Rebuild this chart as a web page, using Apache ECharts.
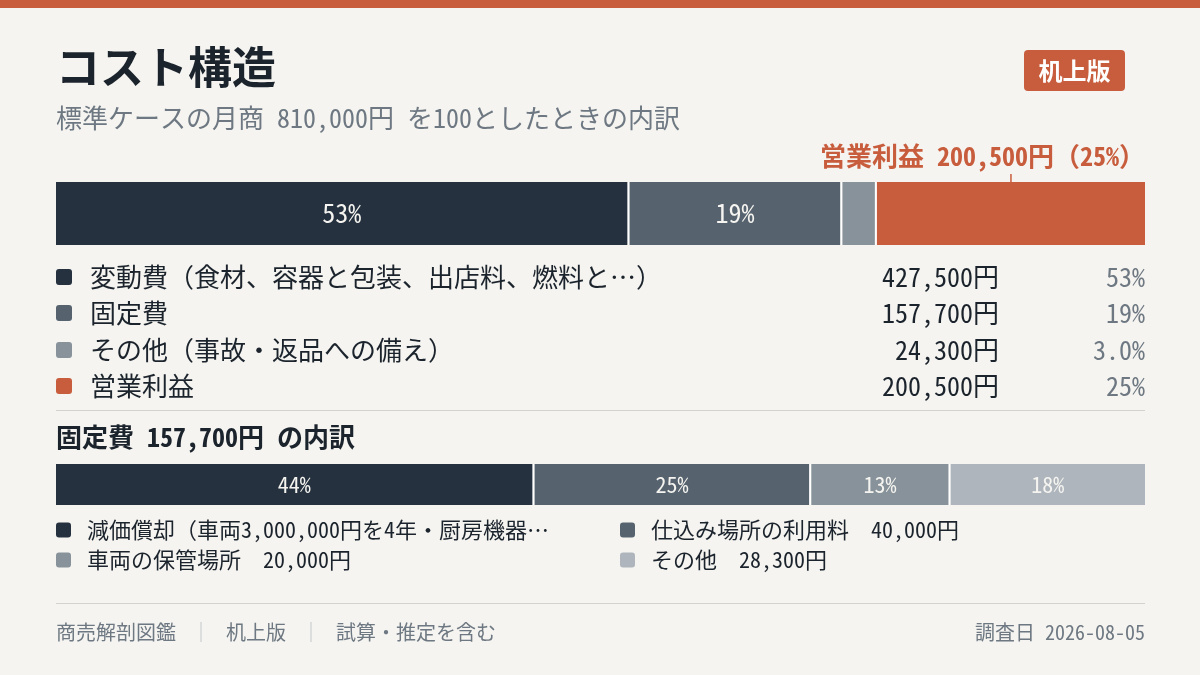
<!DOCTYPE html>
<html><head><meta charset="utf-8">
<script src="https://cdn.jsdelivr.net/npm/echarts@6/dist/echarts.min.js"></script>
<style>html,body{margin:0;padding:0;background:#F5F4F0}#c{width:1200px;height:675px}</style>
</head><body><div id="c"></div>
<script>
const costCategories = ['変動費（食材、容器と包装、出店料、燃料と…）', '固定費', 'その他（事故・返品への備え）', '営業利益'];
const costValues = [427500, 157700, 24300, 200500];
const costColors = ['#25313E', '#56636F', '#87929A', '#C85D3D'];
const fixedCategories = ['減価償却（車両3,000,000円を4年・厨房機器…', '仕込み場所の利用料', '車両の保管場所', 'その他'];
const fixedValues = [69400, 40000, 20000, 28300];
const fixedColors = ['#25313E', '#56636F', '#87929A', '#AEB5BC'];
const monthlySales = 810000;

const FONT = '"Noto Sans Mono CJK JP", "Noto Sans CJK JP", sans-serif';
const DARK = '#1B232C', GRAY = '#6E7882', ORANGE = '#C85D3D', BG = '#F5F4F0';
const fmt = v => v.toLocaleString('en-US');
const pctOf = (v, t) => { const p = v / t * 100; return p < 10 ? p.toFixed(1) + '%' : Math.round(p) + '%'; };
const costTotal = costValues.reduce((a, b) => a + b, 0);
const fixedTotal = fixedValues.reduce((a, b) => a + b, 0);

const BAR_W = 1089, GAP_PX = 2;
function stackSeries(values, colors, total, axis, stack, labelSize, showLabel) {
  const n = values.length;
  const gapVal = total * GAP_PX / (BAR_W - GAP_PX * (n - 1));
  const out = [];
  values.forEach((v, i) => {
    if (i > 0) out.push({ type: 'bar', stack, xAxisIndex: axis, yAxisIndex: axis, data: [gapVal], barWidth: '100%',
      itemStyle: { color: '#FFFFFF' }, silent: true, label: { show: false } });
    out.push({ type: 'bar', stack, xAxisIndex: axis, yAxisIndex: axis, data: [v], barWidth: '100%',
      itemStyle: { color: colors[i] }, silent: true,
      label: { show: showLabel(v, i), position: 'inside', formatter: () => pctOf(v, total),
        color: '#F5F4F0', fontSize: labelSize, fontFamily: FONT } });
  });
  return { series: out, max: total + gapVal * (n - 1), gapVal };
}
const s1 = stackSeries(costValues, costColors, costTotal, 0, 'cost', 26, (v, i) => i < 3 && v / costTotal >= 0.1);
const s2 = stackSeries(fixedValues, fixedColors, fixedTotal, 1, 'fixed', 22, () => true);

const chart = echarts.init(document.getElementById('c'));

const graphics = [];
graphics.push({ type: 'rect', shape: { x: 0, y: 0, width: 1200, height: 8 }, style: { fill: ORANGE }, silent: true });
graphics.push({ type: 'text', x: 56, y: 67, style: { text: 'コスト構造', fontSize: 44, fontWeight: 'bold', fill: DARK, fontFamily: FONT, verticalAlign: 'middle' } });
graphics.push({ type: 'text', x: 56, y: 118, style: { text: '標準ケースの月商 ' + fmt(monthlySales) + '円 を100としたときの内訳', fontSize: 26, fill: GRAY, fontFamily: FONT, verticalAlign: 'middle' } });
graphics.push({ type: 'rect', shape: { x: 1024, y: 50, width: 101, height: 41, r: 4 }, style: { fill: ORANGE } });
graphics.push({ type: 'text', x: 1074.5, y: 71, style: { text: '机上版', fontSize: 24, fontWeight: 'bold', fill: '#FFFFFF', fontFamily: FONT, align: 'center', verticalAlign: 'middle' } });

const rowY = [277, 313, 350, 386];
costCategories.forEach((c, i) => {
  const y = rowY[i];
  graphics.push({ type: 'rect', shape: { x: 56, y: y - 8, width: 16, height: 16, r: 3 }, style: { fill: costColors[i] } });
  graphics.push({ type: 'text', x: 90, y: y, style: { text: c, fontSize: 26, fill: DARK, fontFamily: FONT, verticalAlign: 'middle' } });
  graphics.push({ type: 'text', x: 999, y: y, style: { text: fmt(costValues[i]) + '円', fontSize: 26, fill: DARK, fontFamily: FONT, align: 'right', verticalAlign: 'middle' } });
  graphics.push({ type: 'text', x: 1145, y: y, style: { text: pctOf(costValues[i], costTotal), fontSize: 26, fill: GRAY, fontFamily: FONT, align: 'right', verticalAlign: 'middle' } });
});
graphics.push({ type: 'rect', shape: { x: 56, y: 410, width: 1089, height: 1 }, style: { fill: '#D3D2CE' } });
graphics.push({ type: 'text', x: 56, y: 437, style: { text: '固定費 ' + fmt(fixedTotal) + '円 の内訳', fontSize: 26, fontWeight: 'bold', fill: DARK, fontFamily: FONT, verticalAlign: 'middle' } });

const colX = [56, 620], row2Y = [530, 560];
fixedCategories.forEach((c, i) => {
  const x = colX[i % 2], y = row2Y[Math.floor(i / 2)];
  graphics.push({ type: 'rect', shape: { x: x, y: y - 7.5, width: 15, height: 15, r: 3 }, style: { fill: fixedColors[i] } });
  const t = i === 0 ? c : c + '　' + fmt(fixedValues[i]) + '円';
  graphics.push({ type: 'text', x: x + 31, y: y, style: { text: t, fontSize: 22, fill: DARK, fontFamily: FONT, verticalAlign: 'middle' } });
});
graphics.push({ type: 'rect', shape: { x: 56, y: 603, width: 1089, height: 1 }, style: { fill: '#D3D2CE' } });
graphics.push({ type: 'text', x: 56, y: 632, style: {
  text: '商売解剖図鑑{s| ｜ }机上版{s| ｜ }試算・推定を含む', fontSize: 20, fill: GRAY, fontFamily: FONT, verticalAlign: 'middle',
  rich: { s: { fontSize: 20, fill: '#BFC4C8', fontFamily: FONT, padding: [0, 5] } } } });
graphics.push({ type: 'text', x: 1145, y: 632, style: { text: '調査日 2026-08-05', fontSize: 20, fill: GRAY, fontFamily: FONT, align: 'right', verticalAlign: 'middle' } });

chart.setOption({
  backgroundColor: BG,
  animation: false,
  grid: [
    { left: 56, right: 55, top: 182, height: 63 },
    { left: 56, right: 55, top: 464, height: 41 }
  ],
  xAxis: [
    { gridIndex: 0, type: 'value', min: 0, max: s1.max, show: false },
    { gridIndex: 1, type: 'value', min: 0, max: s2.max, show: false }
  ],
  yAxis: [
    { gridIndex: 0, type: 'category', data: ['売上'], show: false },
    { gridIndex: 1, type: 'category', data: ['固定費'], show: false }
  ],
  series: s1.series.concat(s2.series),
  graphic: graphics
});

// annotation for operating profit (centre of its segment, via the axis scale)
const profitIdx = 3;
const before = costValues.slice(0, profitIdx).reduce((a, b) => a + b, 0) + s1.gapVal * profitIdx;
const cx = chart.convertToPixel({ xAxisIndex: 0 }, before + costValues[profitIdx] / 2);
const annText = costCategories[profitIdx] + ' ' + fmt(costValues[profitIdx]) + '円（' + pctOf(costValues[profitIdx], costTotal) + '）';
const tmp = new echarts.graphic.Text({ style: { text: annText, fontSize: 26, fontWeight: 'bold', fontFamily: FONT } });
const w = tmp.getBoundingRect().width;
let tx = cx - w / 2;
if (tx + w > 1145) tx = 1145 - w;
chart.setOption({ graphic: graphics.concat([
  { type: 'rect', shape: { x: cx - 0.75, y: 174, width: 1.5, height: 8 }, style: { fill: ORANGE } },
  { type: 'text', x: tx, y: 156, style: { text: annText, fontSize: 26, fontWeight: 'bold', fill: ORANGE, fontFamily: FONT, verticalAlign: 'middle' } }
]) });
</script></body></html>
